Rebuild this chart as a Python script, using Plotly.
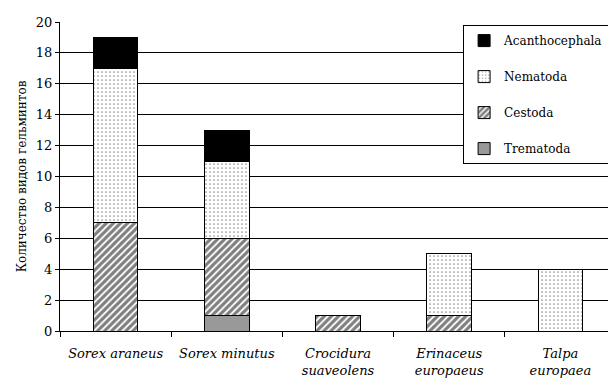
import plotly.graph_objects as go

categories = ["<i>Sorex araneus</i>", "<i>Sorex minutus</i>", "<i>Crocidura<br>suaveolens</i>",
              "<i>Erinaceus<br>europaeus</i>", "<i>Talpa<br>europaea</i>"]
trematoda = [0, 1, 0, 0, 0]
cestoda = [7, 5, 1, 1, 0]
nematoda = [10, 5, 0, 4, 4]
acanthocephala = [2, 2, 0, 0, 0]
y_ticks = list(range(0, 21, 2))

FONT = "DejaVu Serif"

fig = go.Figure()
series = [
    ("Trematoda", trematoda, dict(color="#999999"), 4),
    ("Cestoda", cestoda, dict(color="white", pattern=dict(shape="/", fgcolor="black", bgcolor="white", size=5, solidity=0.65)), 3),
    ("Nematoda", nematoda, dict(color="white", pattern=dict(shape=".", fgcolor="#222222", bgcolor="white", size=4, solidity=0.15)), 2),
    ("Acanthocephala", acanthocephala, dict(color="black"), 1),
]
for name, vals, mk, rank in series:
    mk = dict(mk)
    mk["line"] = dict(color="black", width=1)
    fig.add_trace(go.Bar(x=categories, y=vals, name=name, marker=mk,
                         legendgroup=name, legendrank=rank, width=0.4))

fig.update_layout(
    barmode="stack",
    width=608, height=377,
    margin=dict(l=52, r=0, t=14, b=54),
    plot_bgcolor="white", paper_bgcolor="white",
    font=dict(family=FONT, color="black", size=13),
    legend=dict(x=0.725, y=0.99, xanchor="left", yanchor="top",
                bordercolor="black", borderwidth=1, bgcolor="white",
                traceorder="grouped", tracegroupgap=17,
                font=dict(size=12, family=FONT)),
    xaxis=dict(showline=True, linecolor="black", linewidth=1, ticks="outside",
               tickson="boundaries", ticklen=5, tickcolor="black", automargin=False,
               tickangle=0, ticklabelstandoff=10, tickfont=dict(size=13, family=FONT)),
    yaxis=dict(range=[0, 20], tickvals=y_ticks, showgrid=True, gridcolor="black",
               gridwidth=1, showline=True, linecolor="black", ticks="outside",
               ticklen=4, tickcolor="black", zeroline=False, automargin=False,
               tickfont=dict(size=13, family=FONT),
               title=dict(text="Количество видов гельминтов", font=dict(size=12, family=FONT), standoff=6)),
)
fig.write_html("out.html")
